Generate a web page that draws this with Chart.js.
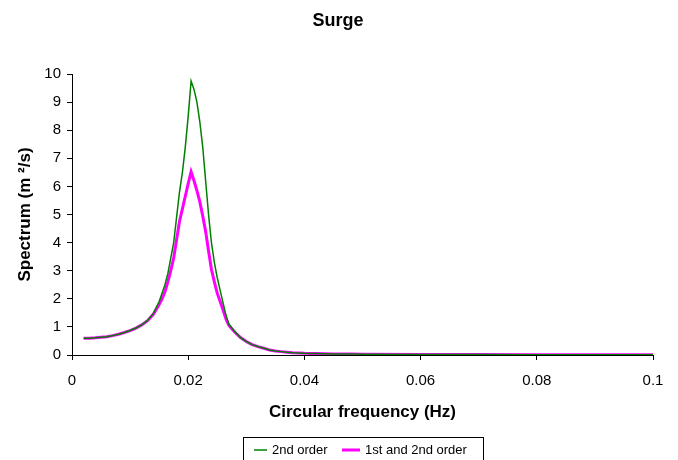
<!DOCTYPE html>
<html>
<head>
<meta charset="utf-8">
<script src="https://cdn.jsdelivr.net/npm/chart.js@4/dist/chart.umd.min.js"></script>
<style>
html,body{margin:0;padding:0;background:#fff;}
#wrap{position:relative;width:678px;height:460px;}
</style>
</head>
<body>
<div id="wrap"><canvas id="c" width="678" height="460"></canvas></div>
<script>
const chartTitle = "Surge";
const xAxisTitle = "Circular frequency (Hz)";
const yAxisTitle = "Spectrum (m \u00B2/s)";
const seriesNames = ["2nd order", "1st and 2nd order"];

const freq = [0.002,0.003,0.004,0.005,0.006,0.007,0.008,0.009,0.010,0.011,0.012,0.013,0.014,0.015,0.0155,0.016,0.0165,0.017,0.0175,0.018,0.0185,0.019,0.0195,0.020,0.0205,0.021,0.0215,0.022,0.0225,0.023,0.0235,0.024,0.0245,0.025,0.0255,0.026,0.0265,0.027,0.028,0.029,0.030,0.031,0.032,0.033,0.034,0.035,0.036,0.037,0.038,0.039,0.040,0.042,0.045,0.048,0.050,0.060,0.070,0.080,0.090,0.100];

const secondOrder = [0.6,0.6,0.61,0.63,0.65,0.69,0.74,0.8,0.87,0.96,1.07,1.23,1.48,1.9,2.2,2.5,2.9,3.45,4.0,4.9,5.8,6.5,7.4,8.5,9.75,9.45,9.0,8.3,7.4,6.2,5.0,4.0,3.3,2.75,2.3,1.85,1.42,1.1,0.84,0.62,0.48,0.37,0.3,0.24,0.18,0.14,0.12,0.1,0.08,0.07,0.06,0.05,0.04,0.035,0.03,0.02,0.015,0.012,0.01,0.01];

const firstAndSecond = [0.6,0.6,0.61,0.63,0.65,0.69,0.74,0.8,0.87,0.96,1.07,1.22,1.45,1.8,2.0,2.25,2.6,3.0,3.45,4.1,4.75,5.2,5.65,6.1,6.52,6.2,5.85,5.45,4.95,4.4,3.7,3.05,2.6,2.2,1.9,1.6,1.28,1.05,0.82,0.62,0.48,0.37,0.3,0.24,0.18,0.14,0.12,0.1,0.08,0.07,0.06,0.05,0.04,0.035,0.03,0.02,0.015,0.012,0.01,0.01];

const seriesColors = ["#008000", "#FF00FF"];

function pts(ys){ return freq.map((f,i)=>({x:f, y:ys[i]})); }

const FONT = "'Liberation Sans', Arial, sans-serif";

const decor = {
  id: 'decor',
  afterDraw(chart) {
    const ctx = chart.ctx;
    ctx.save();
    ctx.fillStyle = '#000';
    ctx.font = "bold 18px " + FONT;
    ctx.textAlign = 'center';
    ctx.textBaseline = 'middle';
    ctx.fillText(chartTitle, 338, 21);
    ctx.strokeStyle = '#000';
    ctx.lineWidth = 1;
    ctx.strokeRect(243.5, 437.5, 240, 30);
    ctx.font = "13px " + FONT;
    ctx.textAlign = 'left';
    ctx.textBaseline = 'middle';
    ctx.strokeStyle = seriesColors[0];
    ctx.lineWidth = 1.5;
    ctx.beginPath(); ctx.moveTo(254, 450); ctx.lineTo(267, 450); ctx.stroke();
    ctx.fillStyle = '#000';
    ctx.fillText(seriesNames[0], 272, 450);
    ctx.strokeStyle = seriesColors[1];
    ctx.lineWidth = 3;
    ctx.beginPath(); ctx.moveTo(342, 450); ctx.lineTo(360, 450); ctx.stroke();
    ctx.fillText(seriesNames[1], 365, 450);
    ctx.restore();
  }
};

new Chart(document.getElementById('c'), {
  type: 'line',
  data: {
    datasets: [
      { label: seriesNames[0], data: pts(secondOrder), borderColor: seriesColors[0], backgroundColor: seriesColors[0], borderWidth: 1.5, pointRadius: 0, tension: 0, fill: false },
      { label: seriesNames[1], data: pts(firstAndSecond), borderColor: seriesColors[1], backgroundColor: seriesColors[1], borderWidth: 3, pointRadius: 0, tension: 0, fill: false }
    ]
  },
  options: {
    responsive: false,
    animation: false,
    layout: { padding: { top: 74, left: 0, right: 25, bottom: 35 } },
    plugins: { legend: { display: false }, title: { display: false }, tooltip: { enabled: false } },
    scales: {
      x: {
        type: 'linear', min: 0, max: 0.1,
        border: { color: '#000', width: 1 },
        grid: { display: true, drawOnChartArea: false, drawTicks: true, tickLength: 5, color: '#000' },
        ticks: { stepSize: 0.02, color: '#000', padding: 12, font: { family: FONT, size: 15 },
          callback: v => String(Number(v.toFixed(2))), maxRotation: 0 },
        title: { display: true, text: xAxisTitle, color: '#000', font: { family: FONT, size: 17, weight: 'bold' }, padding: { top: 0, bottom: 2 } },
        afterFit: s => { s.height = 70; }
      },
      y: {
        min: 0, max: 10,
        border: { color: '#000', width: 1 },
        grid: { display: true, drawOnChartArea: false, drawTicks: true, tickLength: 5, color: '#000' },
        ticks: { stepSize: 1, color: '#000', padding: 6, font: { family: FONT, size: 15 } },
        title: { display: true, text: yAxisTitle, color: '#000', font: { family: FONT, size: 17, weight: 'bold' }, padding: { top: 15, bottom: 0 } },
        afterFit: s => { s.width = 72; }
      }
    }
  },
  plugins: [decor]
});
</script>
</body>
</html>
